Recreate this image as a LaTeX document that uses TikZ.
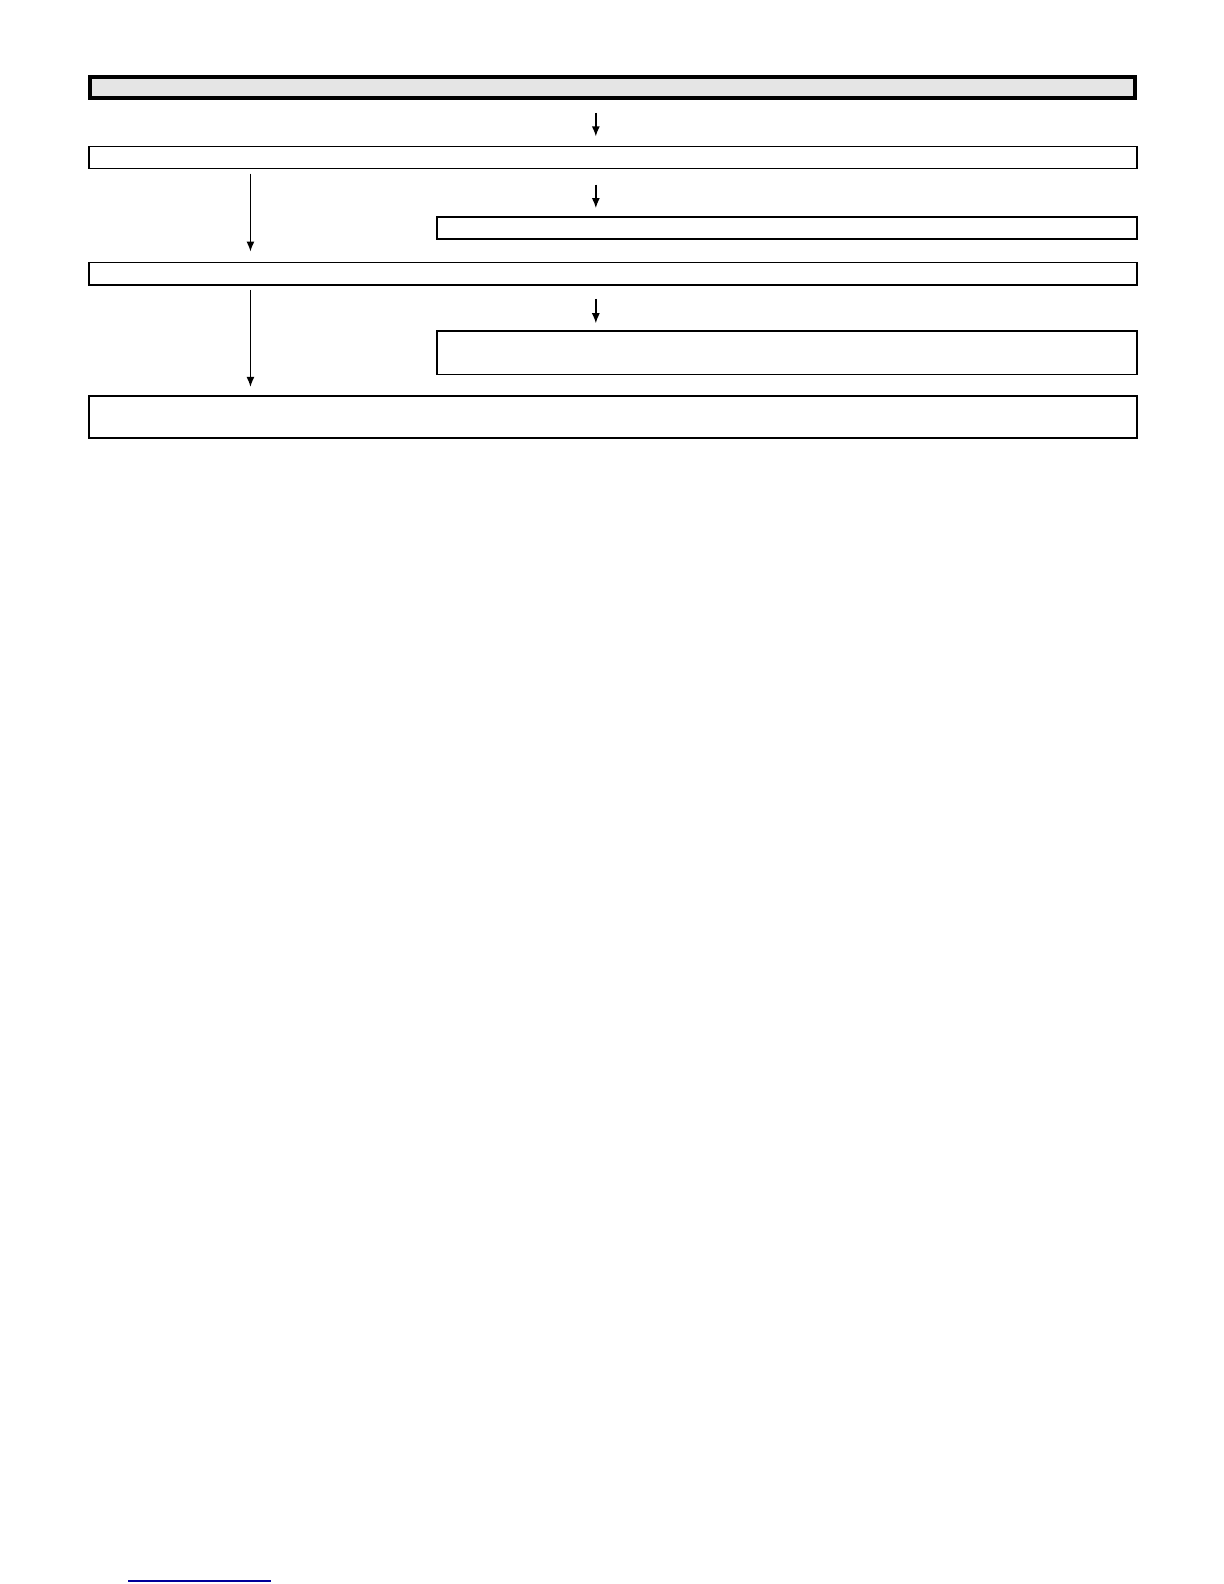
\documentclass[tikz,border=0pt]{standalone}
\usepackage{tikz}
\usetikzlibrary{shapes, arrows, arrows.meta, positioning}
\tikzstyle{block} = [rectangle, draw, line width=1.7bp, inner sep=0pt, outer sep=0pt,
    anchor=north west, minimum height=22.2bp]
\tikzstyle{title} = [block, line width=4.2bp, fill=black!10]
\tikzstyle{line} = [draw, line width=1.4bp, -{Latex[length=10bp,width=8bp]}]

\begin{document}
\begin{tikzpicture}[x=1.0099bp, y=-1.0099bp]
        \useasboundingbox (0,0) rectangle (1212,1568.5);
        % Place nodes
        \node [title, minimum width=1045.2bp, minimum height=21.2bp] (head) at (89,76) {};
        \node [block, minimum width=1048.3bp] (first) at (88,145) {};
        \node [block, minimum width=699.9bp] (firstsub) at (433,215) {};
        \node [block, minimum width=1048.3bp] (second) at (88,260) {};
        \node [block, minimum width=699.9bp, minimum height=43.4bp] (secondsub) at (433,328) {};
        \node [block, minimum width=1048.3bp, minimum height=42.4bp] (result) at (88,392) {};
        % Columns for the arrows
        \coordinate (mid) at (590,0);
        \coordinate (left) at (248,0);
        % Draw edges
        \path [line, shorten <=15bp, shorten >=10bp] (head.south -| mid) -- (first.north -| mid);
        \path [line, shorten <=16bp, shorten >=9bp] (first.south -| mid) -- (firstsub.north -| mid);
        \path [line, shorten <=5bp, shorten >=11bp] (first.south -| left) -- (second.north -| left);
        \path [line, shorten <=14bp, shorten >=8bp] (second.south -| mid) -- (secondsub.north -| mid);
        \path [line, shorten <=5bp, shorten >=9bp] (second.south -| left) -- (result.north -| left);
        % Link underline
        \draw [line width=2bp, blue!60!black] (127,1566) -- (268,1566);
\end{tikzpicture}
\end{document}
